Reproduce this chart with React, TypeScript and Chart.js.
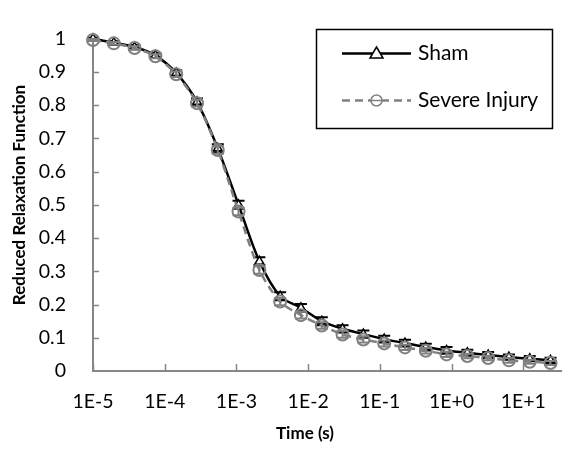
import React, { useEffect, useRef } from "react";
import { Chart, registerables } from "chart.js";

Chart.register(...registerables);

// ---- Data ----
const times = [
  1e-5, 1.95e-5, 3.8e-5, 7.41e-5, 1.445e-4, 2.82e-4, 5.5e-4, 1.07e-3, 2.09e-3,
  4.07e-3, 7.94e-3, 1.55e-2, 3.02e-2, 5.89e-2, 0.115, 0.224, 0.437, 0.851, 1.66,
  3.24, 6.31, 12.3, 24.0,
];
const shamValues = [
  1.0, 0.988, 0.975, 0.95, 0.897, 0.81, 0.67, 0.5, 0.33, 0.225, 0.19, 0.15,
  0.127, 0.111, 0.096, 0.084, 0.072, 0.062, 0.055, 0.048, 0.042, 0.037, 0.032,
];
const shamErrors = [
  0.003, 0.004, 0.005, 0.006, 0.008, 0.01, 0.012, 0.012, 0.012, 0.012, 0.012,
  0.012, 0.011, 0.011, 0.01, 0.01, 0.01, 0.01, 0.009, 0.009, 0.008, 0.008, 0.008,
];
const severeValues = [
  0.996, 0.986, 0.972, 0.947, 0.893, 0.806, 0.665, 0.48, 0.304, 0.209, 0.168,
  0.137, 0.11, 0.095, 0.083, 0.071, 0.061, 0.05, 0.045, 0.039, 0.032, 0.028,
  0.024,
];
const severeErrors = [
  0.003, 0.004, 0.005, 0.006, 0.008, 0.01, 0.011, 0.011, 0.011, 0.011, 0.01,
  0.01, 0.01, 0.009, 0.009, 0.008, 0.008, 0.008, 0.007, 0.007, 0.007, 0.006,
  0.006,
];
const seriesNames = ["Sham", "Severe Injury"];
const xTickValues = [1e-5, 1e-4, 1e-3, 1e-2, 1e-1, 1, 10];
const xAxisTitle = "Time (s)";
const yAxisTitle = "Reduced Relaxation Function";

const FONT = "Lato, 'Liberation Sans', sans-serif";
const AXIS_GREY = "#868686";
const SEVERE_GREY = "#808080";

function fmtLog(v: number): string {
  const e = Math.round(Math.log10(v));
  return "1E" + (e >= 0 ? "+" + e : String(e));
}

const decorPlugin = {
  id: "decor",
  beforeDatasetsDraw(chart: any) {
    const { ctx, chartArea, scales } = chart;
    const x = scales.x;
    const y = scales.y;
    ctx.save();
    ctx.strokeStyle = AXIS_GREY;
    ctx.lineWidth = 1.5;
    for (let i = 1; i <= 10; i++) {
      const py = Math.round(y.getPixelForValue(i / 10)) + 0.5;
      ctx.beginPath();
      ctx.moveTo(chartArea.left, py);
      ctx.lineTo(chartArea.left + 6, py);
      ctx.stroke();
    }
    for (const v of xTickValues) {
      const px = Math.round(x.getPixelForValue(v)) + 0.5;
      ctx.beginPath();
      ctx.moveTo(px, chartArea.bottom);
      ctx.lineTo(px, chartArea.bottom - 7);
      ctx.stroke();
    }
    ctx.restore();
  },
  beforeDatasetDraw(chart: any, args: any) {
    const ds: any = chart.data.datasets[args.index];
    const errs: number[] = ds.errorValues;
    if (!errs) return;
    const { ctx, scales } = chart;
    const x = scales.x;
    const y = scales.y;
    ctx.save();
    ctx.strokeStyle = ds.errorColor;
    ctx.lineWidth = 2;
    ctx.setLineDash([]);
    ds.data.forEach((pt: any, i: number) => {
      const px = x.getPixelForValue(pt.x);
      const yTop = y.getPixelForValue(pt.y + errs[i]);
      const yBot = y.getPixelForValue(pt.y - errs[i]);
      ctx.beginPath();
      ctx.moveTo(px, yTop);
      ctx.lineTo(px, yBot);
      ctx.moveTo(px - 6, yTop);
      ctx.lineTo(px + 6, yTop);
      ctx.moveTo(px - 6, yBot);
      ctx.lineTo(px + 6, yBot);
      ctx.stroke();
    });
    ctx.restore();
  },
  afterDraw(chart: any) {
    const { ctx } = chart;
    ctx.save();
    ctx.fillStyle = "#000";
    ctx.font = `bold 17px ${FONT}`;
    ctx.textAlign = "center";
    ctx.textBaseline = "middle";
    ctx.fillText(xAxisTitle, 305, 434);
    ctx.translate(20, 195);
    ctx.rotate(-Math.PI / 2);
    ctx.fillText(yAxisTitle, 0, 0);
    ctx.restore();

    // legend
    ctx.save();
    const bx = 316.5, by = 29.5, bw = 236, bh = 99;
    ctx.fillStyle = "#fff";
    ctx.fillRect(bx, by, bw, bh);
    ctx.strokeStyle = "#000";
    ctx.lineWidth = 1.5;
    ctx.strokeRect(bx, by, bw, bh);
    const x0 = 342, x1 = 411, xm = 376.5;
    const y1 = 53.5;
    ctx.strokeStyle = "#000";
    ctx.lineWidth = 2.5;
    ctx.beginPath();
    ctx.moveTo(x0, y1);
    ctx.lineTo(x1, y1);
    ctx.stroke();
    ctx.lineWidth = 1.5;
    ctx.fillStyle = "#fff";
    ctx.beginPath();
    ctx.moveTo(xm, y1 - 6.5);
    ctx.lineTo(xm + 6.5, y1 + 4.5);
    ctx.lineTo(xm - 6.5, y1 + 4.5);
    ctx.closePath();
    ctx.fill();
    ctx.stroke();
    const y2 = 100.5;
    ctx.strokeStyle = SEVERE_GREY;
    ctx.lineWidth = 2.5;
    ctx.setLineDash([8, 5]);
    ctx.beginPath();
    ctx.moveTo(x0, y2);
    ctx.lineTo(x1, y2);
    ctx.stroke();
    ctx.setLineDash([]);
    ctx.fillStyle = "#fff";
    ctx.lineWidth = 1.5;
    ctx.beginPath();
    ctx.arc(xm, y2, 5.5, 0, Math.PI * 2);
    ctx.fill();
    ctx.stroke();
    ctx.beginPath();
    ctx.moveTo(xm - 5.5, y2);
    ctx.lineTo(xm + 5.5, y2);
    ctx.stroke();
    ctx.fillStyle = "#000";
    ctx.font = `21px ${FONT}`;
    ctx.textAlign = "left";
    ctx.textBaseline = "middle";
    ctx.fillText(seriesNames[0], 418, y1);
    ctx.fillText(seriesNames[1], 418, y2);
    ctx.restore();
  },
};

export default function App() {
  const canvasRef = useRef<HTMLCanvasElement | null>(null);

  useEffect(() => {
    const canvas = canvasRef.current;
    if (!canvas) return;
    const chart = new Chart(canvas, {
      type: "line",
      data: {
        datasets: [
          {
            label: seriesNames[0],
            data: times.map((t, i) => ({ x: t, y: shamValues[i] })),
            borderColor: "#000",
            borderWidth: 2.5,
            backgroundColor: "#fff",
            pointStyle: "triangle",
            pointRadius: 5,
            pointBorderWidth: 1.5,
            pointBorderColor: "#000",
            pointBackgroundColor: "#fff",
            tension: 0.3,
            clip: false,
            order: 2,
            errorValues: shamErrors,
            errorColor: "#000",
          } as any,
          {
            label: seriesNames[1],
            data: times.map((t, i) => ({ x: t, y: severeValues[i] })),
            borderColor: SEVERE_GREY,
            borderWidth: 2.5,
            borderDash: [8, 5],
            backgroundColor: "rgba(0,0,0,0)",
            pointStyle: "circle",
            pointRadius: 6,
            pointBorderWidth: 2,
            pointBorderColor: SEVERE_GREY,
            pointBackgroundColor: "rgba(0,0,0,0)",
            tension: 0.3,
            clip: false,
            order: 1,
            errorValues: severeErrors,
            errorColor: SEVERE_GREY,
          } as any,
        ],
      },
      options: {
        animation: false,
        responsive: false,
        devicePixelRatio: 1,
        layout: { padding: { top: 18, right: 4, left: 0, bottom: 0 } },
        plugins: {
          legend: { display: false },
          tooltip: { enabled: false },
        },
        scales: {
          x: {
            type: "logarithmic",
            min: 1e-5,
            max: Math.pow(10, 1.526),
            grid: { display: false, drawTicks: false },
            border: { display: true, color: AXIS_GREY, width: 2 },
            afterBuildTicks: (scale: any) => {
              scale.ticks = xTickValues.map((v) => ({ value: v, major: true }));
            },
            afterFit: (scale: any) => {
              scale.height = 82;
            },
            ticks: {
              autoSkip: false,
              maxRotation: 0,
              padding: 19,
              color: "#000",
              font: { family: FONT, size: 19.5 },
              callback: (v: any) => fmtLog(Number(v)),
            },
          },
          y: {
            type: "linear",
            min: 0,
            max: 1,
            grid: { display: false, drawTicks: false },
            border: { display: true, color: AXIS_GREY, width: 2 },
            afterFit: (scale: any) => {
              scale.width = 93;
            },
            ticks: {
              stepSize: 0.1,
              padding: 27,
              color: "#000",
              font: { family: FONT, size: 19.5 },
              callback: (v: any) => String(Number(Number(v).toFixed(1))),
            },
          },
        },
      },
      plugins: [decorPlugin],
    });
    return () => chart.destroy();
  }, []);

  return (
    <div style={{ position: "fixed", left: 0, top: 0, width: 569, height: 453, background: "#fff" }}>
      <canvas ref={canvasRef} width={569} height={453} />
    </div>
  );
}
